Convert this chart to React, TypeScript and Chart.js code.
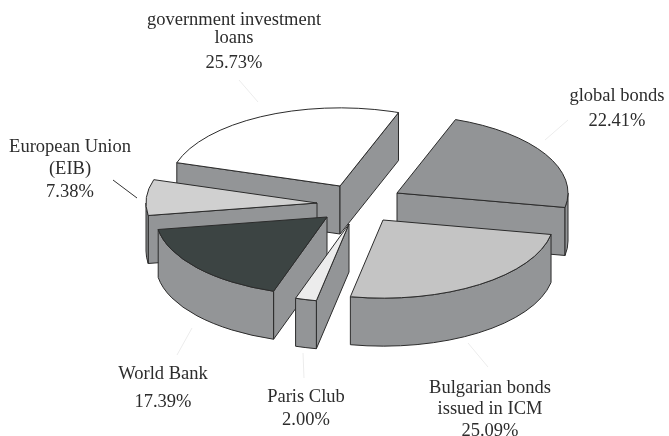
import React, { useEffect, useRef } from "react";
import { Chart, PieController, registerables } from "chart.js";

const categories = [
  "global bonds",
  "Bulgarian bonds issued in ICM",
  "Paris Club",
  "World Bank",
  "European Union (EIB)",
  "government investment loans",
];
const shares = [22.41, 25.09, 2.0, 17.39, 7.38, 25.73];
const topColors = ["#929496", "#c4c4c4", "#ececec", "#3c4443", "#d0d0d0", "#ffffff"];

// Back-to-front paint order of the slices, and how far each one is pulled out.
const paintOrder = [5, 0, 4, 1, 3, 2];
const explodeX = [40, 26, -8, -30, -40, -17];
const explodeY = [-11, 16, 20, 13, -1, -18];

const WALL = "#939597";
const EDGE = "#2b2b2b";
const TEXT = "#2c2c2c";
const TILT = 0.457;
const DEPTH = 48;
const RADIUS = 171;

class Pie3DController extends PieController {
  static id = "pie3d";

  draw() {
    const ctx = this.chart.ctx;
    const arcs = this.getMeta().data as any[];
    ctx.lineWidth = 1;
    ctx.lineJoin = "round";
    for (const i of paintOrder) {
      const arc = arcs[i];
      const cx = arc.x + explodeX[i];
      const cy = arc.y + explodeY[i];
      const r = arc.outerRadius;
      const ry = r * TILT;
      const a0 = arc.startAngle;
      const a1 = arc.endAngle;

      const paint = () => {
        ctx.fillStyle = WALL;
        ctx.fill();
        ctx.strokeStyle = EDGE;
        ctx.stroke();
      };
      const radialWall = (a: number) => {
        const px = cx + r * Math.cos(a);
        const py = cy + ry * Math.sin(a);
        ctx.beginPath();
        ctx.moveTo(cx, cy);
        ctx.lineTo(px, py);
        ctx.lineTo(px, py + DEPTH);
        ctx.lineTo(cx, cy + DEPTH);
        ctx.closePath();
        paint();
      };

      // Side faces turned towards the viewer.
      if (Math.cos(a0) < 0) radialWall(a0);
      if (Math.cos(a1) > 0) radialWall(a1);

      // Rim: only the stretch of the arc on the front half of the ellipse.
      for (let k = -1; k <= 2; k++) {
        const lo = Math.max(a0, 2 * Math.PI * k);
        const hi = Math.min(a1, Math.PI + 2 * Math.PI * k);
        if (lo < hi) {
          ctx.beginPath();
          ctx.ellipse(cx, cy, r, ry, 0, lo, hi);
          ctx.lineTo(cx + r * Math.cos(hi), cy + ry * Math.sin(hi) + DEPTH);
          ctx.ellipse(cx, cy + DEPTH, r, ry, 0, hi, lo, true);
          ctx.closePath();
          paint();
        }
      }

      // Top face: the arc element itself, squashed into the tilted plane.
      ctx.save();
      ctx.translate(cx, cy);
      ctx.scale(1, TILT);
      ctx.translate(-arc.x, -arc.y);
      arc.draw(ctx);
      ctx.restore();

      ctx.beginPath();
      ctx.moveTo(cx, cy);
      ctx.lineTo(cx + r * Math.cos(a0), cy + ry * Math.sin(a0));
      ctx.ellipse(cx, cy, r, ry, 0, a0, a1);
      ctx.closePath();
      ctx.strokeStyle = EDGE;
      ctx.stroke();
    }
  }
}

Chart.register(...registerables, Pie3DController);

// Caption lines per slice, with the centre x and the baseline of each line.
const captionLines = [
  ["global bonds"],
  ["Bulgarian bonds", "issued in ICM"],
  ["Paris Club"],
  ["World Bank"],
  ["European Union", "(EIB)"],
  ["government investment", "loans"],
];
const captionX = [617, 490, 306, 163, 70, 234];
const captionY = [
  [101, 126],
  [393, 414, 436],
  [402, 425],
  [379, 407],
  [152, 174, 197],
  [25, 43, 68],
];

// Thin leader lines from captions towards their slices.
const leaders = [
  { from: [545, 140], to: [568, 120], color: "#ececec" },
  { from: [468, 343], to: [488, 367], color: "#ececec" },
  { from: [303, 353], to: [304, 378], color: "#ececec" },
  { from: [192, 328], to: [177, 355], color: "#ececec" },
  { from: [113, 180], to: [137, 198], color: "#333333" },
  { from: [239, 80], to: [258, 102], color: "#ececec" },
];

const captionsPlugin = {
  id: "captions",
  afterDraw(chart: Chart) {
    const ctx = chart.ctx;
    ctx.save();
    ctx.lineWidth = 1;
    for (const l of leaders) {
      ctx.strokeStyle = l.color;
      ctx.beginPath();
      ctx.moveTo(l.from[0], l.from[1]);
      ctx.lineTo(l.to[0], l.to[1]);
      ctx.stroke();
    }
    ctx.fillStyle = TEXT;
    ctx.font = '18.5px "Liberation Serif", serif';
    ctx.textAlign = "center";
    ctx.textBaseline = "alphabetic";
    captionLines.forEach((lines, i) => {
      const texts = [...lines, `${shares[i].toFixed(2)}%`];
      texts.forEach((t, j) => ctx.fillText(t, captionX[i], captionY[i][j]));
    });
    ctx.restore();
  },
};

export default function App() {
  const ref = useRef<HTMLCanvasElement>(null);
  useEffect(() => {
    const chart = new Chart(ref.current!, {
      type: "pie3d" as any,
      data: {
        labels: categories,
        datasets: [
          {
            data: shares,
            backgroundColor: topColors,
            borderWidth: 0,
            clip: false,
          } as any,
        ],
      },
      options: {
        animation: false,
        responsive: false,
        rotation: 20,
        radius: RADIUS,
        layout: { padding: { left: 45, bottom: 28 } },
        plugins: { legend: { display: false }, tooltip: { enabled: false } },
      } as any,
      plugins: [captionsPlugin],
    });
    return () => chart.destroy();
  }, []);
  return (
    <canvas
      ref={ref}
      width={669}
      height={436}
      style={{ position: "absolute", left: 0, top: 0, display: "block" }}
    />
  );
}
